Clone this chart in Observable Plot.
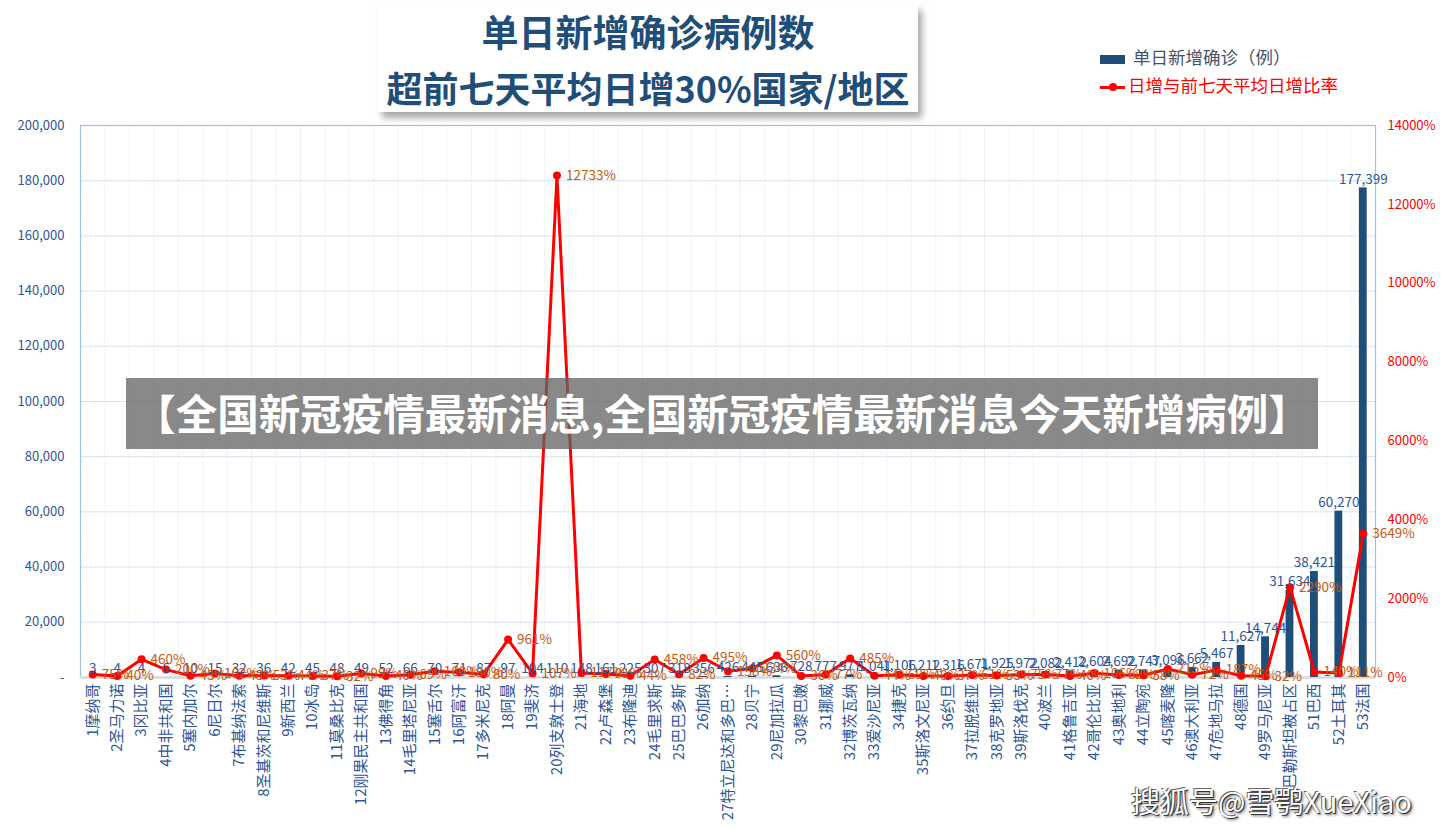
<!DOCTYPE html>
<html><head><meta charset="utf-8">
<script src="https://cdn.jsdelivr.net/npm/d3@7"></script>
<script src="https://cdn.jsdelivr.net/npm/@observablehq/plot@0.6"></script>
<style>
body{margin:0;background:#fff;font-family:"Noto Sans CJK SC","Noto Sans",sans-serif;}
#wrap{position:relative;width:1446px;height:828px;overflow:hidden;background:#fff;}
#chart{position:absolute;left:0;top:0;}
.titlebox{position:absolute;left:378px;top:4px;width:540px;height:108px;background:#fff;box-shadow:4px 6px 7px rgba(0,0,0,0.35);text-align:center;color:#1F4E79;font-weight:bold;line-height:47px;padding-top:4px;box-sizing:border-box;}
.legend{position:absolute;left:1100px;font-size:17.5px;line-height:22px;}
.legend .sw{display:inline-block;vertical-align:middle;margin-right:8px;}
.overlay{position:absolute;left:126px;top:378px;width:1192px;height:71px;background:rgba(100,100,100,0.76);color:#fff;font-weight:bold;font-size:41.5px;line-height:69px;text-align:center;white-space:nowrap;}
.wm{position:absolute;left:1131px;top:779px;font-size:29px;color:#fff;text-shadow:1px 1px 0 #333,2px 2px 3px rgba(0,0,0,.6),-1px -1px 0 #666;}
</style></head><body>
<div id="wrap">
<div id="chart"></div>
<div class="titlebox"><span style="font-size:37px;">单日新增确诊病例数</span><br><span style="font-size:36px;">超前七天平均日增30%国家/地区</span></div>
<div class="legend" style="top:46px;color:#44546A;"><span class="sw" style="width:25px;height:9px;background:#1F4E79;"></span>单日新增确诊（例）</div>
<div class="legend" style="top:74px;color:#FF0000;"><span class="sw" style="width:25px;height:3px;background:#FF0000;position:relative;margin-right:3px;"><span style="position:absolute;left:9px;top:-3px;width:8px;height:8px;border-radius:50%;background:#FF0000;"></span></span>日增与前七天平均日增比率</div>
<div class="overlay">【全国新冠疫情最新消息,全国新冠疫情最新消息今天新增病例】</div>
<div class="wm">搜狐号@雪鹗XueXiao</div>
</div>
<script>
const countries = ["1摩纳哥","2圣马力诺","3冈比亚","4中非共和国","5塞内加尔","6尼日尔","7布基纳法索","8圣基茨和尼维斯","9新西兰","10冰岛","11莫桑比克","12刚果民主共和国","13佛得角","14毛里塔尼亚","15塞舌尔","16阿富汗","17多米尼克","18阿曼","19斐济","20列支敦士登","21海地","22卢森堡","23布隆迪","24毛里求斯","25巴巴多斯","26加纳","27特立尼达和多巴…","28贝宁","29尼加拉瓜","30黎巴嫩","31挪威","32博茨瓦纳","33爱沙尼亚","34捷克","35斯洛文尼亚","36约旦","37拉脱维亚","38克罗地亚","39斯洛伐克","40波兰","41格鲁吉亚","42哥伦比亚","43奥地利","44立陶宛","45喀麦隆","46澳大利亚","47危地马拉","48德国","49罗马尼亚","50巴勒斯坦被占区","51巴西","52土耳其","53法国"];
const cases = [3,4,4,6,10,15,32,36,42,45,48,49,52,66,70,71,87,97,104,110,148,161,225,307,318,356,426,445,636,728,777,977,1041,1106,1212,1316,1671,1925,1972,2082,2412,2604,2692,2747,3096,3662,5467,11627,14744,31634,38421,60270,177399];
const ratio = [75,40,460,200,43,102,43,53,44,37,32,99,40,69,160,130,80,961,107,12733,117,91,44,458,82,495,158,234,560,36,77,485,44,69,40,37,61,53,75,77,40,106,62,58,215,72,187,45,32,2290,140,111,3649];
const leftTicks = [0,20000,40000,60000,80000,100000,120000,140000,160000,180000,200000];
const rightTicks = [0,2000,4000,6000,8000,10000,12000,14000];

const W = 1446, H = 828, ML = 80, MR = 71;
const k = 200000 / 14000;
const step = (W - ML - MR) / countries.length;
const fmt = d3.format(",");
const data = countries.map((c, i) => ({c, v: cases[i], r: ratio[i], ry: ratio[i] * k}));

const chart = Plot.plot({
  width: W, height: H, marginLeft: ML, marginRight: MR, marginTop: 125, marginBottom: 151,
  style: {fontFamily: '"Noto Sans CJK SC","Noto Sans",sans-serif', background: "transparent"},
  x: {domain: countries, type: "band", paddingInner: 0.68, paddingOuter: 0.34, round: false, label: null},
  y: {domain: [0, 200000], label: null},
  marks: [
    Plot.ruleX(countries, {x: d => d, dx: -step / 2, stroke: "#EEF2F7", strokeWidth: 1}),
    Plot.ruleY(leftTicks.slice(1), {stroke: "#D6E2F1", strokeWidth: 1}),
    Plot.frame({stroke: "#9DC3E6", strokeWidth: 1.2}),
    Plot.ruleY([0], {stroke: "#D9D9D9", strokeWidth: 2.5}),
    Plot.barY(data, {x: "c", y: "v", fill: "#1F4E79"}),
    Plot.lineY(data, {x: "c", y: "ry", stroke: "#FF0000", strokeWidth: 3}),
    Plot.dot(data, {x: "c", y: "ry", r: 4, fill: "#FF0000"}),
    Plot.text(data, {x: "c", y: "v", text: d => fmt(d.v), lineAnchor: "bottom", dy: -4, fill: "#2F5597", fontSize: 13.5}),
    Plot.text(data, {x: "c", y: "ry", text: d => d.r + "%", textAnchor: "start", dx: 9, fill: "#C55A11", fontSize: 13.5}),
    Plot.axisY({anchor: "left", ticks: leftTicks, tickFormat: d => d === 0 ? "-" : fmt(d), tickSize: 0, tickPadding: 16, fontSize: 13, color: "#2F5597", label: null}),
    Plot.axisY({anchor: "right", ticks: rightTicks.map(v => v * k), tickFormat: d => Math.round(d / k) + "%", tickSize: 0, tickPadding: 12, fontSize: 13, color: "#FF0000", label: null}),
    Plot.axisX({tickRotate: -90, tickSize: 0, tickPadding: 6, fontSize: 15, color: "#2F5597", label: null})
  ]
});
document.getElementById("chart").appendChild(chart);
</script>
</body></html>
